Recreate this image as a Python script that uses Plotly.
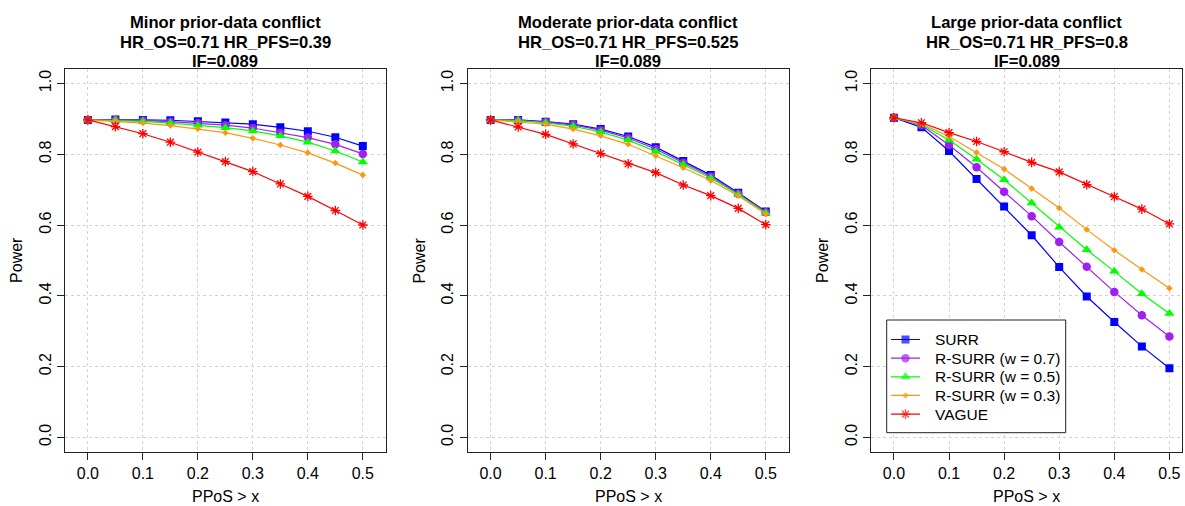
import plotly.graph_objects as go

# x grid: PPoS threshold
ppos = [0.0, 0.05, 0.10, 0.15, 0.20, 0.25, 0.30, 0.35, 0.40, 0.45, 0.50]

series_names = ["SURR", "R-SURR (w = 0.7)", "R-SURR (w = 0.5)", "R-SURR (w = 0.3)", "VAGUE"]

# Minor prior-data conflict (HR_PFS = 0.39)
minor_surr = [0.897, 0.898, 0.897, 0.896, 0.893, 0.890, 0.885, 0.876, 0.865, 0.848, 0.823]
minor_rs07 = [0.897, 0.897, 0.895, 0.892, 0.888, 0.882, 0.874, 0.861, 0.847, 0.828, 0.801]
minor_rs05 = [0.897, 0.896, 0.893, 0.888, 0.882, 0.875, 0.866, 0.852, 0.834, 0.809, 0.778]
minor_rs03 = [0.897, 0.893, 0.888, 0.881, 0.872, 0.861, 0.845, 0.826, 0.804, 0.775, 0.741]
minor_vague = [0.897, 0.878, 0.858, 0.834, 0.806, 0.779, 0.751, 0.716, 0.681, 0.641, 0.600]

# Moderate prior-data conflict (HR_PFS = 0.525)
moderate_surr = [0.897, 0.897, 0.892, 0.885, 0.871, 0.850, 0.820, 0.781, 0.741, 0.691, 0.638]
moderate_rs07 = [0.897, 0.896, 0.891, 0.883, 0.868, 0.846, 0.815, 0.776, 0.737, 0.688, 0.636]
moderate_rs05 = [0.897, 0.895, 0.889, 0.879, 0.863, 0.840, 0.808, 0.771, 0.733, 0.686, 0.634]
moderate_rs03 = [0.897, 0.891, 0.885, 0.871, 0.852, 0.828, 0.796, 0.762, 0.726, 0.683, 0.631]
moderate_vague = [0.897, 0.877, 0.856, 0.829, 0.802, 0.773, 0.748, 0.713, 0.683, 0.647, 0.601]

# Large prior-data conflict (HR_PFS = 0.8)
large_surr = [0.903, 0.876, 0.809, 0.730, 0.652, 0.571, 0.481, 0.398, 0.326, 0.257, 0.195]
large_rs07 = [0.903, 0.882, 0.826, 0.763, 0.694, 0.625, 0.552, 0.482, 0.411, 0.345, 0.285]
large_rs05 = [0.903, 0.884, 0.840, 0.786, 0.728, 0.662, 0.594, 0.530, 0.469, 0.406, 0.350]
large_rs03 = [0.903, 0.886, 0.850, 0.805, 0.758, 0.703, 0.648, 0.587, 0.529, 0.474, 0.421]
large_vague = [0.903, 0.889, 0.861, 0.836, 0.807, 0.777, 0.750, 0.714, 0.680, 0.645, 0.603]

panel_titles = [
    ["Minor prior-data conflict", "HR_OS=0.71 HR_PFS=0.39", "IF=0.089"],
    ["Moderate prior-data conflict", "HR_OS=0.71 HR_PFS=0.525", "IF=0.089"],
    ["Large prior-data conflict", "HR_OS=0.71 HR_PFS=0.8", "IF=0.089"],
]
panel_data = [
    [minor_surr, minor_rs07, minor_rs05, minor_rs03, minor_vague],
    [moderate_surr, moderate_rs07, moderate_rs05, moderate_rs03, moderate_vague],
    [large_surr, large_rs07, large_rs05, large_rs03, large_vague],
]

x_ticks = [0.0, 0.1, 0.2, 0.3, 0.4, 0.5]
y_ticks = [0.0, 0.2, 0.4, 0.6, 0.8, 1.0]

W, H = 1185, 506
FONT = "Liberation Sans, Arial, Helvetica, sans-serif"

colors = ["#0000FF", "#A020F0", "#00FF00", "#FF9612", "#FF0000"]
symbols = ["square", "circle", "triangle-up", "diamond", "asterisk-open"]
sizes = [8, 8.5, 9, 5, 8]

# Plot boxes in pixels (left, right), shared vertical extent
boxes_px = [(65.0, 385.7), (467.7, 788.7), (871.0, 1182.4)]
x_ranges = [(-0.0416, 0.5416), (-0.0416, 0.5416), (-0.0416, 0.5236)]
top_px, bottom_px = 69.3, 451.5
y_range = (-0.04, 1.04)

# Legend box geometry (pixel space of the third panel)
leg_left, leg_right, leg_top, leg_bottom = 886.7, 1065.7, 320.0, 432.7
leg_row0, leg_row_step = 339.5, 18.65
leg_key_x0, leg_key_x1, leg_text_x = 891.0, 920.0, 933.3


def marker_style(s, size=None):
    sz = sizes[s] if size is None else size
    if symbols[s].startswith("asterisk"):
        return dict(color=colors[s], size=sz, symbol=symbols[s],
                    line=dict(width=1.3, color=colors[s]))
    return dict(color=colors[s], size=sz, symbol=symbols[s], line=dict(width=0))


fig = go.Figure()

for p in range(3):
    xa = "x" if p == 0 else f"x{p+1}"
    ya = "y" if p == 0 else f"y{p+1}"
    for s in range(5):
        fig.add_trace(go.Scatter(
            x=ppos, y=panel_data[p][s], mode="lines+markers",
            name=series_names[s],
            line=dict(color=colors[s], width=1.2),
            marker=marker_style(s),
            xaxis=xa, yaxis=ya, showlegend=False,
        ))

# Legend keys, drawn in a pixel-scaled layer stacked over the third panel
for s in range(5):
    yc = leg_row0 + leg_row_step * s
    fig.add_trace(go.Scatter(
        x=[leg_key_x0, (leg_key_x0 + leg_key_x1) / 2, leg_key_x1],
        y=[yc, yc, yc], mode="lines+markers",
        line=dict(color=colors[s], width=1.2),
        marker=dict(marker_style(s), size=[0, sizes[s], 0]),
        xaxis="x4", yaxis="y4", showlegend=False, hoverinfo="skip",
    ))

layout = dict(
    width=W, height=H,
    margin=dict(l=0, r=0, t=0, b=0),
    paper_bgcolor="white", plot_bgcolor="rgba(0,0,0,0)",
    font=dict(family=FONT, size=16, color="black"),
    showlegend=False,
)

annotations = []
for p in range(3):
    l, r = boxes_px[p]
    sfx = "" if p == 0 else str(p + 1)
    common = dict(
        showline=True, linecolor="#222222", linewidth=1, mirror=True,
        showgrid=True, gridcolor="#D3D3D3", gridwidth=1, griddash="dot",
        zeroline=False, ticks="outside", ticklen=7, tickcolor="#222222",
        tickfont=dict(family=FONT, size=16, color="black"),
    )
    layout["xaxis" + sfx] = dict(
        common, domain=[l / W, r / W], range=list(x_ranges[p]),
        tickvals=x_ticks, ticktext=[f"{v:.1f}" for v in x_ticks],
        anchor="y" + sfx,
    )
    layout["yaxis" + sfx] = dict(
        common, domain=[1 - bottom_px / H, 1 - top_px / H], range=list(y_range),
        tickvals=y_ticks, ticktext=[f"{v:.1f}" for v in y_ticks],
        tickangle=-90, anchor="x" + sfx,
    )
    cx = (l + r) / 2 / W
    for i, line in enumerate(panel_titles[p]):
        annotations.append(dict(
            text=f"<b>{line}</b>", x=cx, y=1 - (22.7 + 19.5 * i) / H,
            xref="paper", yref="paper", xanchor="center", yanchor="middle",
            showarrow=False, font=dict(family=FONT, size=16.6, color="black"),
        ))
    annotations.append(dict(
        text="PPoS > x", x=cx, y=1 - 496.7 / H, xref="paper", yref="paper",
        xanchor="center", yanchor="middle", showarrow=False,
        font=dict(family=FONT, size=16, color="black"),
    ))
    annotations.append(dict(
        text="Power", x=(l - 48.5) / W, y=1 - (top_px + bottom_px) / 2 / H,
        xref="paper", yref="paper", xanchor="center", yanchor="middle",
        textangle=-90, showarrow=False,
        font=dict(family=FONT, size=16, color="black"),
    ))

# Separate pixel-unit axes sharing the third panel's area, for the legend
l3, r3 = boxes_px[2]
layout["xaxis4"] = dict(domain=[l3 / W, r3 / W], range=[l3, r3],
                        visible=False, anchor="y4", fixedrange=True)
layout["yaxis4"] = dict(domain=[1 - bottom_px / H, 1 - top_px / H],
                        range=[bottom_px, top_px],
                        visible=False, anchor="x4", fixedrange=True)

for s in range(5):
    yc = leg_row0 + leg_row_step * s
    annotations.append(dict(
        text=series_names[s], x=leg_text_x, y=yc, xref="x4", yref="y4",
        xanchor="left", yanchor="middle", showarrow=False,
        font=dict(family=FONT, size=15.5, color="black"),
    ))

layout["annotations"] = annotations

# Legend frame: white fill over the panel gridlines, beneath the legend keys
layout["shapes"] = [dict(
    type="rect", xref="x4", yref="y4", layer="below",
    x0=leg_left, x1=leg_right, y0=leg_bottom, y1=leg_top,
    fillcolor="white", line=dict(color="#222222", width=1),
)]
fig.update_layout(**layout)

fig.write_html("out.html")
